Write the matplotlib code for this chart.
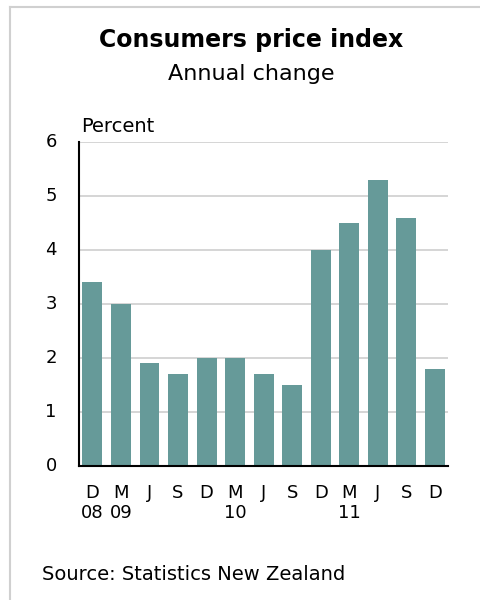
import matplotlib

matplotlib.use("Agg")
import matplotlib.pyplot as plt
from matplotlib.lines import Line2D

plt.rcParams["font.family"] = ["DejaVu Sans"]

# quarterly annual CPI change, Dec 2008 - Dec 2011
quarters = ["D\n08", "M\n09", "J", "S", "D", "M\n10", "J", "S", "D", "M\n11", "J", "S", "D"]
cpi_change = [3.4, 3.0, 1.9, 1.7, 2.0, 2.0, 1.7, 1.5, 4.0, 4.5, 5.3, 4.6, 1.8]
y_ticks = [0, 1, 2, 3, 4, 5, 6]

bar_color = "#669a99"
grid_color = "#d2d2d2"

fig = plt.figure(figsize=(4.8, 6.0), dpi=100)
fig.patch.set_facecolor("white")

# light grey frame on top and left only
fig.add_artist(Line2D([10 / 480, 1], [0.989, 0.989], color="#d0d0d0", lw=1.5, transform=fig.transFigure))
fig.add_artist(Line2D([10 / 480, 10 / 480], [0, 0.989], color="#d0d0d0", lw=1.5, transform=fig.transFigure))

ax = fig.add_axes([79 / 480, 1 - 466 / 600, (448 - 79) / 480, (466 - 142) / 600])
x = list(range(len(quarters)))
ax.bar(x, cpi_change, width=0.7, color=bar_color, zorder=2)

ax.set_xlim(-0.47, 12.46)
ax.set_ylim(0, 6)
ax.set_yticks(y_ticks)
ax.set_yticklabels([str(t) for t in y_ticks])
ax.set_xticks(x)
ax.set_xticklabels(quarters, linespacing=1.15)
ax.tick_params(axis="y", length=0, pad=16, labelsize=13)
ax.tick_params(axis="x", length=0, pad=13, labelsize=13)
for lab in ax.get_yticklabels():
    lab.set_verticalalignment("center")

ax.grid(axis="y", color=grid_color, lw=1.3, zorder=0)
ax.set_axisbelow(True)
for side in ["top", "right"]:
    ax.spines[side].set_visible(False)
ax.spines["left"].set_linewidth(1.5)
ax.spines["bottom"].set_linewidth(1.5)

fig.text(0.523, 1 - 47 / 600, "Consumers price index", ha="center", va="baseline",
         fontsize=17, fontweight="bold")
fig.text(0.523, 1 - 80 / 600, "Annual change", ha="center", va="baseline", fontsize=16)
fig.text(81 / 480, 1 - 132 / 600, "Percent", ha="left", va="baseline", fontsize=14)
fig.text(42 / 480, 1 - 580 / 600, "Source: Statistics New Zealand", ha="left", va="baseline", fontsize=14)

fig.savefig("out.png", dpi=100, facecolor="white")
